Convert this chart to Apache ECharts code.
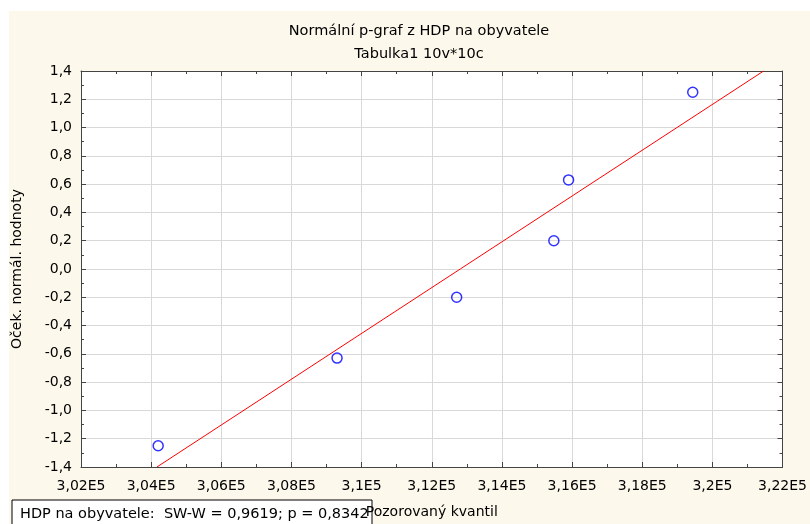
<!DOCTYPE html>
<html><head><meta charset="utf-8">
<script src="https://cdn.jsdelivr.net/npm/echarts@6/dist/echarts.min.js"></script>
<style>html,body{margin:0;padding:0;background:#fff}#c{width:810px;height:524px}</style>
</head><body><div id="c"></div>
<script>
var obsX = [304200, 309300, 312710, 315480, 315900, 319440];
var expY = [-1.25, -0.63, -0.20, 0.20, 0.63, 1.25];
var fitX = [304165, 321460];
var fitY = [-1.4, 1.4];
var xMin = 302000, xMax = 322000, xStep = 2000;
var yMin = -1.4, yMax = 1.4, yStep = 0.2;
var titleText = 'Normální p-graf z HDP na obyvatele';
var subText = 'Tabulka1 10v*10c';
var xName = 'Pozorovaný kvantil';
var yName = 'Oček. normál. hodnoty';
var legendText = 'HDP na obyvatele:  SW-W = 0,9619; p = 0,8342';

var FONT = 'DejaVu Sans';
var FS = 14;
function fmtX(v){ return parseFloat((v/1e5).toFixed(4)).toString().replace('.', ',') + 'E5'; }
function fmtY(v){ return (Math.abs(v) < 1e-9 ? 0 : v).toFixed(1).replace('.', ','); }

var axisLineCol = '#444';
var gridCol = '#d9d9d9';
function baseX(pos, labels){
  return {type:'value', position:pos, min:xMin, max:xMax, interval:xStep,
    axisLine:{show:true, onZero:false, lineStyle:{color:axisLineCol, width:1}},
    axisTick:{show:true, inside:true, length:5, lineStyle:{color:axisLineCol}},
    minorTick:{show:true, splitNumber:2, length:3, lineStyle:{color:axisLineCol}},
    axisLabel:{show:labels, formatter:fmtX, color:'#000', fontFamily:FONT, fontSize:FS, margin:12},
    splitLine:{show:labels, lineStyle:{color:gridCol, width:1}}};
}
function baseY(pos, labels){
  return {type:'value', position:pos, min:yMin, max:yMax, interval:yStep,
    axisLine:{show:true, onZero:false, lineStyle:{color:axisLineCol, width:1}},
    axisTick:{show:true, inside:true, length:5, lineStyle:{color:axisLineCol}},
    minorTick:{show:true, splitNumber:2, length:3, lineStyle:{color:axisLineCol}},
    axisLabel:{show:labels, formatter:fmtY, color:'#000', fontFamily:FONT, fontSize:FS, margin:9},
    splitLine:{show:labels, lineStyle:{color:gridCol, width:1}}};
}
var xa = baseX('bottom', true);
xa.name = xName; xa.nameLocation = 'middle'; xa.nameGap = 38;
xa.nameTextStyle = {color:'#000', fontFamily:FONT, fontSize:FS};
var ya = baseY('left', true);
ya.name = yName; ya.nameLocation = 'middle'; ya.nameGap = 57;
ya.nameTextStyle = {color:'#000', fontFamily:FONT, fontSize:FS};
var xa2 = baseX('top', false);
var ya2 = baseY('right', false);

var chart = echarts.init(document.getElementById('c'), null, {renderer:'canvas'});
chart.setOption({
  backgroundColor:'#fff',
  animation:false,
  graphic:[
    {type:'rect', z:-10, shape:{x:9, y:11, width:801, height:513}, style:{fill:'#fdf8ec'}, silent:true},
    {type:'group', z:100, children:[
      {type:'rect', shape:{x:12, y:500, width:360, height:30}, style:{fill:'#fff', stroke:'#000', lineWidth:1}},
      {type:'text', style:{x:20, y:514, text:legendText, fill:'#000', font:'14.5px "DejaVu Sans"', verticalAlign:'middle'}}
    ]}
  ],
  title:[
    {text:titleText, left:414, top:19, textAlign:'center', textStyle:{fontFamily:FONT, fontSize:14.5, fontWeight:'normal', color:'#000'}},
    {text:subText, left:414, top:42, textAlign:'center', textStyle:{fontFamily:FONT, fontSize:14.5, fontWeight:'normal', color:'#000'}}
  ],
  grid:{left:81, right:27, top:71, bottom:55, show:true, backgroundColor:'#fff', borderWidth:0},
  xAxis:[xa, xa2],
  yAxis:[ya, ya2],
  series:[
    {type:'line', xAxisIndex:0, yAxisIndex:0, data:fitX.map(function(x,i){return [x, fitY[i]];}),
     symbol:'none', lineStyle:{color:'#ff0000', width:1}, z:3},
    {type:'scatter', xAxisIndex:0, yAxisIndex:0, data:obsX.map(function(x,i){return [x, expY[i]];}),
     symbol:'circle', symbolSize:10, itemStyle:{color:'rgba(255,255,255,0)', borderColor:'#0000ff', borderWidth:1.5}, z:4}
  ]
});
</script></body></html>
